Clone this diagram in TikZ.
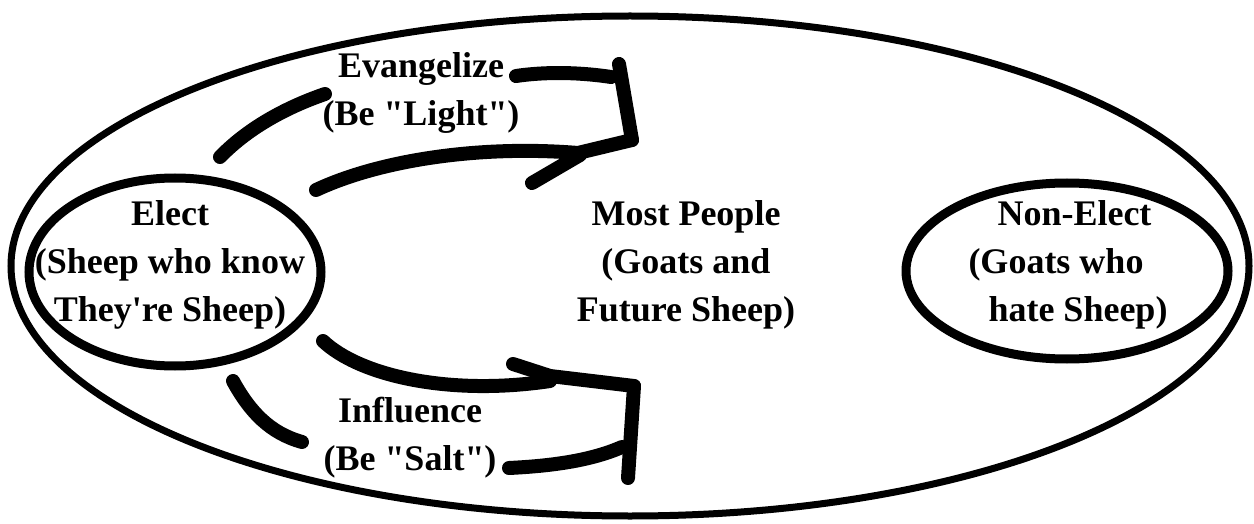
\documentclass[tikz,border=0pt]{standalone}
\usepackage{fontspec}
\setmainfont{Liberation Serif}
\usetikzlibrary{shapes.geometric}
\newcommand{\dq}{\textquotedbl}
\newcommand{\sq}{\textquotesingle}
\tikzset{
  oval/.style={draw=black, ellipse, inner sep=0pt},
  txt/.style={font=\fontsize{36}{48}\selectfont\bfseries, align=center, inner sep=0pt},
  brush/.style={draw=black, line width=14pt, line cap=round, line join=round}
}
\begin{document}
\begin{tikzpicture}[x=1pt,y=-1pt]
\useasboundingbox (0,0) rectangle (1254,524);
% outer world
\node[oval, line width=7pt, minimum width=1238pt, minimum height=500pt] (world) at (630,266) {};
% inner groups
\node[oval, line width=9pt, minimum width=292pt, minimum height=188pt] (elect) at (175,272) {};
\node[oval, line width=9pt, minimum width=322pt, minimum height=176pt] (nonelect) at (1067,271) {};
% texts
\node[txt] (electT) at (170,265) {Elect\\(Sheep who know\\They\sq re Sheep)};
\node[txt] (mostT) at (686,265) {Most People\\(Goats and\\Future Sheep)};
\node[txt, align=left] (nonT) at (1068,265) {\hspace*{29pt}Non-Elect\\(Goats who\\\hspace*{20pt}hate Sheep)};
\node[txt] (evT) at (421,93) {Evangelize\\(Be \dq Light\dq)};
\node[txt] (inT) at (410,438) {Influence\\(Be \dq Salt\dq)};
% evangelize arrow
\coordinate (e1) at (220,157); \coordinate (e2) at (325,94);
\coordinate (e3) at (516,76); \coordinate (e4) at (611,77);
\coordinate (e5) at (619,64); \coordinate (e6) at (632,140);
\coordinate (e7) at (316,190); \coordinate (e8) at (578,153);
\coordinate (e9) at (580,155); \coordinate (e10) at (532,183);
\draw[brush] (e1) .. controls (250,126) and (290,106) .. (e2);
\draw[brush] (e3) .. controls (550,71) and (585,73) .. (e4);
\draw[brush] (e5) -- (e6);
\draw[brush] (e7) .. controls (380,160) and (480,145) .. (e8) -- (e6);
\draw[brush] (e9) -- (e10);
% influence arrow
\coordinate (i1) at (233,381); \coordinate (i2) at (302,442);
\coordinate (i3) at (323,341); \coordinate (i4) at (550,381);
\coordinate (i5) at (513,364); \coordinate (i6) at (634,386);
\coordinate (i7) at (628,478);
\coordinate (i8) at (509,468); \coordinate (i9) at (622,447);
\draw[brush] (i1) .. controls (250,412) and (270,433) .. (i2);
\draw[brush] (i3) .. controls (360,376) and (450,396) .. (i4);
\draw[brush] (i5) -- (550,376) -- (i6);
\draw[brush] (i6) -- (i7);
\draw[brush] (i8) .. controls (550,466) and (590,461) .. (i9);
\end{tikzpicture}
\end{document}
